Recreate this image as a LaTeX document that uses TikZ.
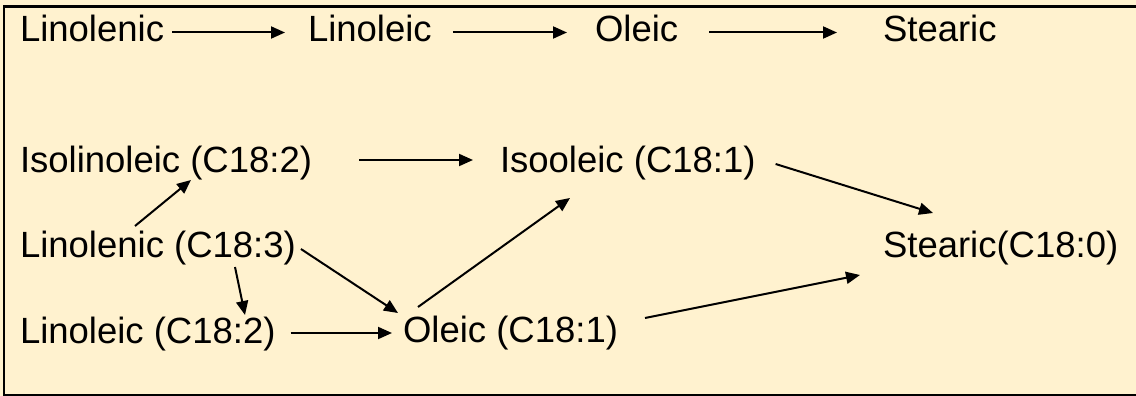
\documentclass[tikz,border=0pt]{standalone}
\usepackage{fontspec}
\setmainfont{Liberation Sans}
\usetikzlibrary{arrows.meta}
\definecolor{bgcream}{RGB}{255,242,207}
\tikzset{
  txt/.style={anchor=base west, inner sep=0pt, outer sep=0pt, font=\fontsize{36.5}{40}\selectfont},
  conn/.style={line width=2pt, -{Triangle[length=14pt,width=12pt]}},
}
\begin{document}
\begin{tikzpicture}[x=1pt,y=-1pt]
\useasboundingbox (0,0) rectangle (1136,396);
\fill[bgcream] (0,0) rectangle (1136,396);
\draw[line width=2.5pt] (4,6.3) rectangle (1150,395);
% top row
\node[txt] (t1) at (20,42) {Linolenic};
\node[txt] (t2) at (308,42) {Linoleic};
\node[txt] (t3) at (595,42) {Oleic};
\node[txt] (t4) at (883,42) {Stearic};
% lower part
\node[txt] (i2) at (20,172) {Isolinoleic (C18:2)};
\node[txt] (io) at (500,172) {Isooleic (C18:1)};
\node[txt] (l3) at (20,257) {Linolenic (C18:3)};
\node[txt] (l4) at (20,343) {Linoleic (C18:2)};
\node[txt] (ol) at (403,342) {Oleic (C18:1)};
\node[txt] (st) at (883,257) {Stearic(C18:0)};
% top arrows
\draw[conn] ([shift={(8,-9.5)}]t1.base east) -- ([shift={(-23,-9.5)}]t2.base west);
\draw[conn] ([shift={(21,-9.5)}]t2.base east) -- ([shift={(-28,-9.5)}]t3.base west);
\draw[conn] ([shift={(31,-9.5)}]t3.base east) -- ([shift={(-46,-9.5)}]t4.base west);
% lower arrows
\draw[conn] ([shift={(47,-12)}]i2.base east) -- ([shift={(-27,-12)}]io.base west);
\draw[conn] ([shift={(20,-8)}]io.base east) -- ([shift={(50,-44)}]st.base west);
\draw[conn] ([shift={(115,-31)}]l3.base west) -- ([shift={(171,8)}]i2.base west);
\draw[conn] ([shift={(215,10)}]l3.base west) -- ([shift={(225,-28)}]l4.base west);
\draw[conn] ([shift={(5,-8)}]l3.base east) -- ([shift={(-5,-29)}]ol.base west);
\draw[conn] ([shift={(15,-10)}]l4.base east) -- ([shift={(-11,-9)}]ol.base west);
\draw[conn] ([shift={(15,-35)}]ol.base west) -- ([shift={(70,26)}]io.base west);
\draw[conn] ([shift={(27,-24)}]ol.base east) -- ([shift={(-23,18)}]st.base west);
\end{tikzpicture}
\end{document}
